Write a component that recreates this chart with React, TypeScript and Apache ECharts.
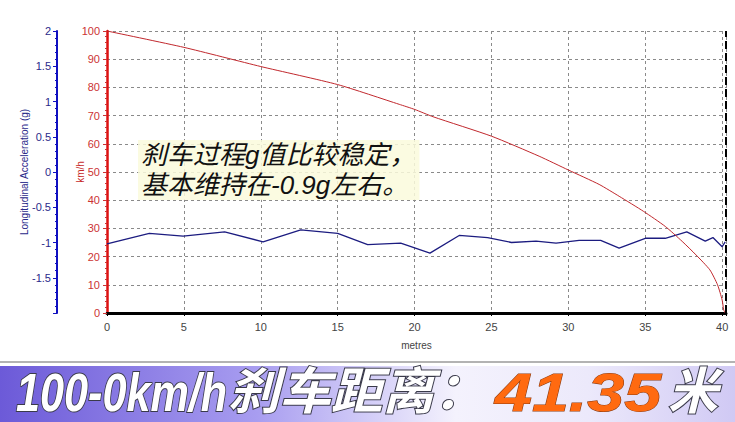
import React, { useEffect, useRef } from "react";
import * as echarts from "echarts";

const xTicks = [0, 5, 10, 15, 20, 25, 30, 35, 40];
const speedTicksMax = 100;
const gTicks = [-2, 2];

// distance (m), speed (km/h)
const speedDist = [0, 5, 10, 15, 19, 20, 21.2, 25, 28.1, 30, 32, 33.3, 34.9, 36.3, 37.4, 38.3, 39.2, 39.7, 40.0, 40.1, 40.2];
const speedVal = [100, 94.2, 87.4, 81.0, 74.0, 72.2, 69.6, 62.7, 55.6, 50.7, 45.6, 41.4, 36.0, 30.7, 25.4, 20.6, 15.3, 10.0, 4.6, 1.1, 0];

// distance (m), longitudinal acceleration (g)
const gDist = [0, 2.75, 4.95, 7.65, 10.15, 12.6, 15.0, 16.95, 19.1, 21.0, 22.9, 24.75, 26.3, 27.9, 29.2, 30.7, 32.1, 33.3, 35.0, 36.3, 37.7, 38.9, 39.4, 40.0, 40.2];
const gVal = [-1.02, -0.87, -0.91, -0.85, -0.99, -0.82, -0.87, -1.03, -1.01, -1.15, -0.9, -0.93, -1.0, -0.98, -1.01, -0.97, -0.97, -1.08, -0.94, -0.94, -0.85, -0.98, -0.93, -1.06, -0.99];

const xMax = 40.25;
const annotation = "刹车过程g值比较稳定，\n基本维持在-0.9g左右。";
const bannerLeft = "100-0km/h";
const bannerMid = "刹车距离：";
const bannerNum = "41.35";
const bannerUnit = "米";

export default function App() {
  const ref = useRef<HTMLDivElement>(null);
  useEffect(() => {
    if (!ref.current) return;
    const chart = echarts.init(ref.current, undefined, { renderer: "svg" });
    const latin = '"Liberation Sans", Arial, sans-serif';
    const mixed = '"Liberation Sans", "Noto Sans CJK SC", sans-serif';
    const option: any = {
      animation: false,
      backgroundColor: "#ffffff",
      grid: { left: 107, right: 9, top: 31, bottom: 109 },
      xAxis: [
        {
          type: "value",
          min: 0,
          max: xMax,
          interval: 5,
          name: "metres",
          nameLocation: "middle",
          nameGap: 27,
          nameTextStyle: { color: "#444", fontSize: 10, fontFamily: latin },
          axisLine: { show: true, onZero: false, lineStyle: { color: "#000", width: 3 } },
          axisTick: { show: true, length: 3, lineStyle: { color: "#000" } },
          minorTick: { show: true, splitNumber: 5, length: 2, lineStyle: { color: "#000" } },
          axisLabel: {
            color: "#444",
            fontSize: 11,
            fontFamily: latin,
            margin: 8,
            formatter: (v: number) => (xTicks.indexOf(v) >= 0 ? String(v) : ""),
          },
          splitLine: { show: true, lineStyle: { color: "#8a8a8a", type: [3, 3], width: 1 } },
        },
        {
          type: "value",
          position: "top",
          min: 0,
          max: xMax,
          axisLine: { show: true, lineStyle: { color: "#000", width: 1.5 } },
          axisTick: { show: false },
          axisLabel: { show: false },
          splitLine: { show: false },
        },
      ],
      yAxis: [
        {
          type: "value",
          min: 0,
          max: speedTicksMax,
          interval: 10,
          position: "left",
          name: "km/h",
          nameLocation: "middle",
          nameGap: 22,
          nameMoveOverlap: false,
          nameRotate: 90,
          nameTextStyle: { color: "#c62828", fontSize: 10, fontFamily: latin },
          axisLine: { show: true, onZero: false, lineStyle: { color: "#dd1111", width: 2.5 } },
          axisTick: { show: true, length: 4, lineStyle: { color: "#cc3333" } },
          minorTick: { show: true, splitNumber: 5, length: 2, lineStyle: { color: "#cc3333" } },
          axisLabel: { color: "#cc3333", fontSize: 11, fontFamily: latin, margin: 7 },
          splitLine: { show: true, lineStyle: { color: "#8a8a8a", type: [3, 3], width: 1 } },
        },
        {
          type: "value",
          min: gTicks[0],
          max: gTicks[1],
          interval: 0.5,
          position: "left",
          offset: 50,
          name: "Longitudinal Acceleration (g)",
          nameLocation: "middle",
          nameGap: 28,
          nameMoveOverlap: false,
          nameRotate: 90,
          nameTextStyle: { color: "#2a2a8a", fontSize: 10, fontFamily: latin },
          axisLine: { show: true, onZero: false, lineStyle: { color: "#1010c0", width: 2 } },
          axisTick: { show: true, length: 4, lineStyle: { color: "#1010c0" } },
          minorTick: { show: true, splitNumber: 5, length: 2, lineStyle: { color: "#1010c0" } },
          axisLabel: {
            color: "#2a2a8a",
            fontSize: 11,
            fontFamily: latin,
            margin: 6,
            formatter: (v: number) => (v === gTicks[0] ? "" : String(v)),
          },
          splitLine: { show: false },
        },
      ],
      series: [
        {
          type: "line",
          xAxisIndex: 0,
          yAxisIndex: 1,
          data: gDist.map((d, i) => [d, gVal[i]]),
          showSymbol: false,
          lineStyle: { color: "#1c1c80", width: 1.3 },
          z: 3,
        },
        {
          type: "line",
          xAxisIndex: 0,
          yAxisIndex: 0,
          data: speedDist.map((d, i) => [d, speedVal[i]]),
          showSymbol: false,
          smooth: 0.2,
          lineStyle: { color: "#c0282d", width: 1 },
          z: 4,
          markLine: {
            silent: true,
            symbol: "none",
            label: { show: false },
            lineStyle: { color: "#000", type: [8, 4], width: 2 },
            data: [{ xAxis: xMax }],
          },
        },
      ],
      graphic: [
        {
          type: "text",
          x: 138,
          y: 140,
          z: 10,
          style: {
            text: annotation,
            font: `italic 26px ${mixed}`,
            fill: "#111",
            lineHeight: 30,
            backgroundColor: "rgba(250,250,220,0.85)",
            padding: [0, 4, 0, 3],
          },
        },
        {
          type: "line",
          shape: { x1: 0, y1: 362, x2: 735, y2: 362 },
          style: { stroke: "#9a9a9a", lineWidth: 1.5 },
        },
        {
          type: "rect",
          shape: { x: 0, y: 366, width: 735, height: 56 },
          style: {
            fill: new echarts.graphic.LinearGradient(0, 0, 1, 0, [
              { offset: 0, color: "#6c5ad8" },
              { offset: 0.35, color: "#a89df0" },
              { offset: 0.62, color: "#f4f2fd" },
              { offset: 0.8, color: "#ece9fb" },
              { offset: 1, color: "#d0c9f4" },
            ]),
          },
        },
        {
          type: "text",
          x: 16,
          y: 392,
          scaleX: 0.8,
          z: 12,
          style: {
            text: bannerLeft,
            font: `italic bold 54px ${latin}`,
            fill: "#ffffff",
            stroke: "#3a3a4a",
            lineWidth: 2,
            textAlign: "left",
            textVerticalAlign: "middle",
          },
        },
        {
          type: "text",
          x: 228,
          y: 392,
          scaleX: 1.03,
          z: 12,
          style: {
            text: bannerMid,
            font: `italic bold 50px ${mixed}`,
            fill: "#ffffff",
            stroke: "#3a3a4a",
            lineWidth: 2,
            textAlign: "left",
            textVerticalAlign: "middle",
          },
        },
        {
          type: "text",
          x: 495,
          y: 392,
          scaleX: 1.23,
          z: 12,
          style: {
            text: bannerNum,
            font: `italic bold 54px ${latin}`,
            fill: "#ff6a10",
            stroke: "#8a3a10",
            lineWidth: 1,
            textAlign: "left",
            textVerticalAlign: "middle",
          },
        },
        {
          type: "text",
          x: 668,
          y: 392,
          z: 12,
          style: {
            text: bannerUnit,
            font: `italic bold 50px ${mixed}`,
            fill: "#ffffff",
            stroke: "#3a3a4a",
            lineWidth: 2,
            textAlign: "left",
            textVerticalAlign: "middle",
          },
        },
      ],
    };
    chart.setOption(option);
    return () => chart.dispose();
  }, []);
  return (
    <div
      ref={ref}
      style={{ position: "absolute", left: 0, top: 0, width: 735, height: 422 }}
    />
  );
}
